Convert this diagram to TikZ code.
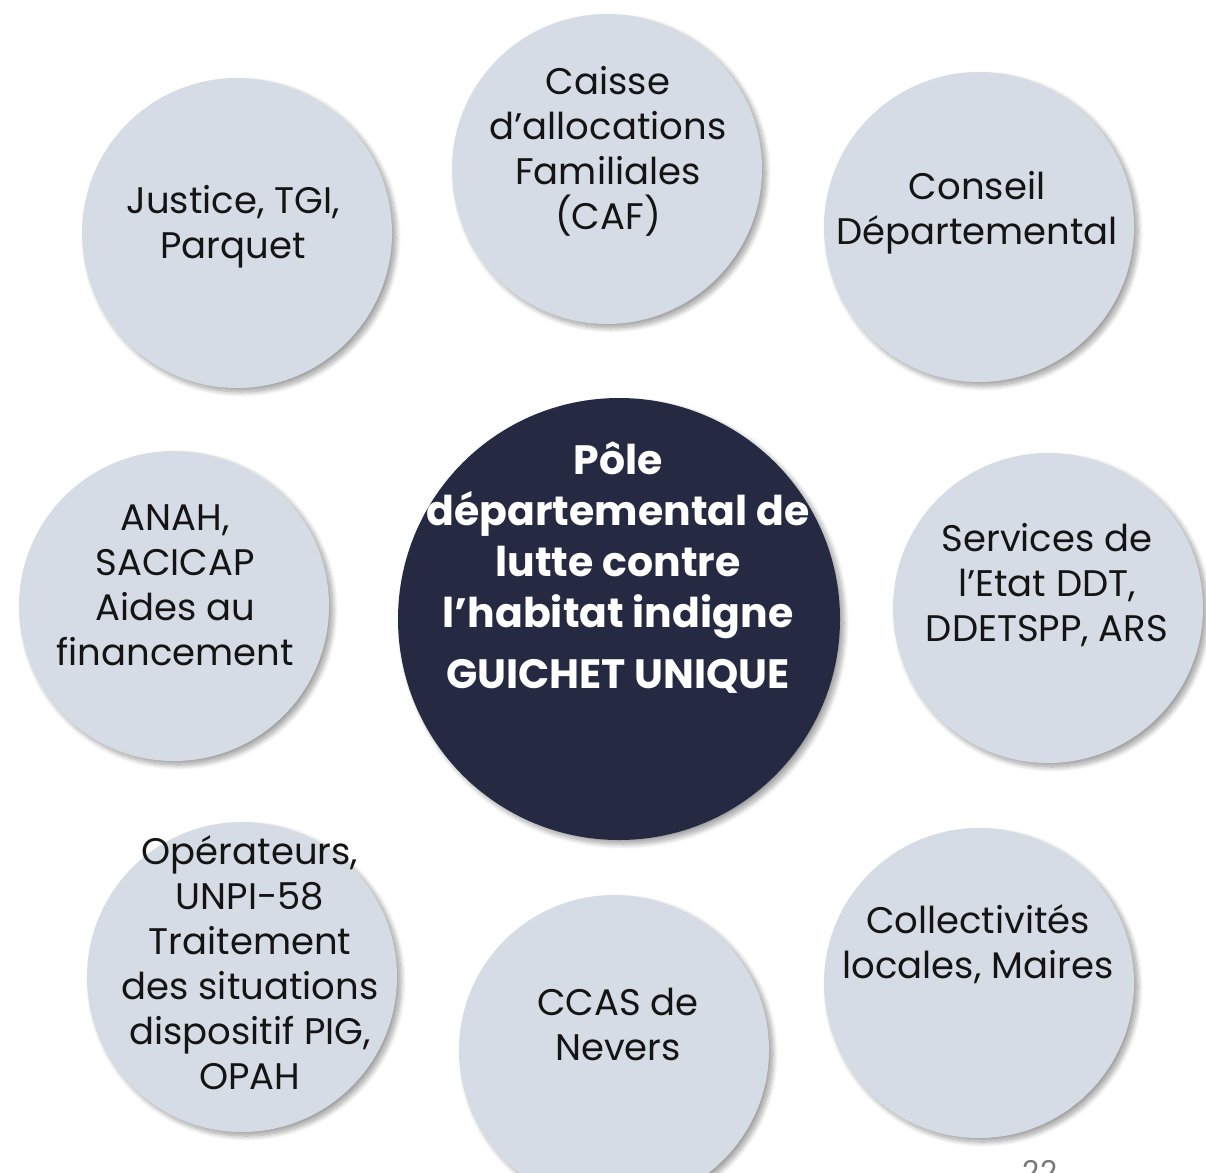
\documentclass[tikz,border=0pt]{standalone}
\usepackage{fontspec}
\setmainfont{Poppins}
\usetikzlibrary{shadows.blur}
\definecolor{outerfill}{RGB}{214,220,229}
\definecolor{centerfill}{RGB}{37,42,66}
\definecolor{txtdark}{RGB}{20,20,20}
\definecolor{pagenum}{RGB}{120,120,120}
\tikzset{
  disc/.style={circle, inner sep=0pt, minimum size=310pt,
    blur shadow={shadow xshift=4pt, shadow yshift=-4pt, shadow blur steps=14, shadow opacity=38, shadow blur radius=5pt}},
  outer/.style={disc, fill=outerfill},
  hub/.style={disc, fill=centerfill, minimum size=442pt},
  lbl/.style={align=center, text=txtdark, inner sep=0pt, font=\fontsize{37}{45}\selectfont},
  hublbl/.style={align=center, text=white, inner sep=0pt, font=\fontsize{41}{51}\selectfont\bfseries}
}
\begin{document}
\begin{tikzpicture}[x=1pt,y=-1pt]
\useasboundingbox (0,0) rectangle (1206,1172);
\node[outer] (justice) at (237,233) {};
\node[outer] (caf) at (607,169) {};
\node[outer] (conseil) at (979,227) {};
\node[outer] (anah) at (174,606) {};
\node[outer] (services) at (1048,608) {};
\node[outer] (operateurs) at (242,977) {};
\node[outer] (ccas) at (614,1050) {};
\node[outer] (collectivites) at (979,983) {};
\node[hub] (pole) at (619,619) {};

\node[lbl] (justice-t) at (233,227) {Justice, TGI,\\Parquet};
\node[lbl] (caf-t) at (608,151) {Caisse\\d’allocations\\Familiales\\(CAF)};
\node[lbl] (conseil-t) at (977,213) {Conseil\\Départemental};
\node[lbl] (anah-t) at (175,585) {ANAH,\\SACICAP\\Aides au\\financement};
\node[lbl] (services-t) at (1047,585) {Services de\\l’Etat DDT,\\DDETSPP, ARS};
\node[lbl] (operateurs-t) at (250,963) {Opérateurs,\\UNPI-58\\Traitement\\des situations\\dispositif PIG,\\OPAH};
\node[lbl] (ccas-t) at (618,1024) {CCAS de\\Nevers};
\node[lbl] (collectivites-t) at (978,944) {Collectivités\\locales, Maires};
\node[hublbl] (pole-t) at (618,568) {Pôle\\départemental de\\lutte contre\\l’habitat indigne\\[10pt]GUICHET UNIQUE};
\node[text=pagenum, font=\fontsize{30}{36}\selectfont, anchor=north, inner sep=0pt] (page) at (1040,1160) {22};
\end{tikzpicture}
\end{document}
